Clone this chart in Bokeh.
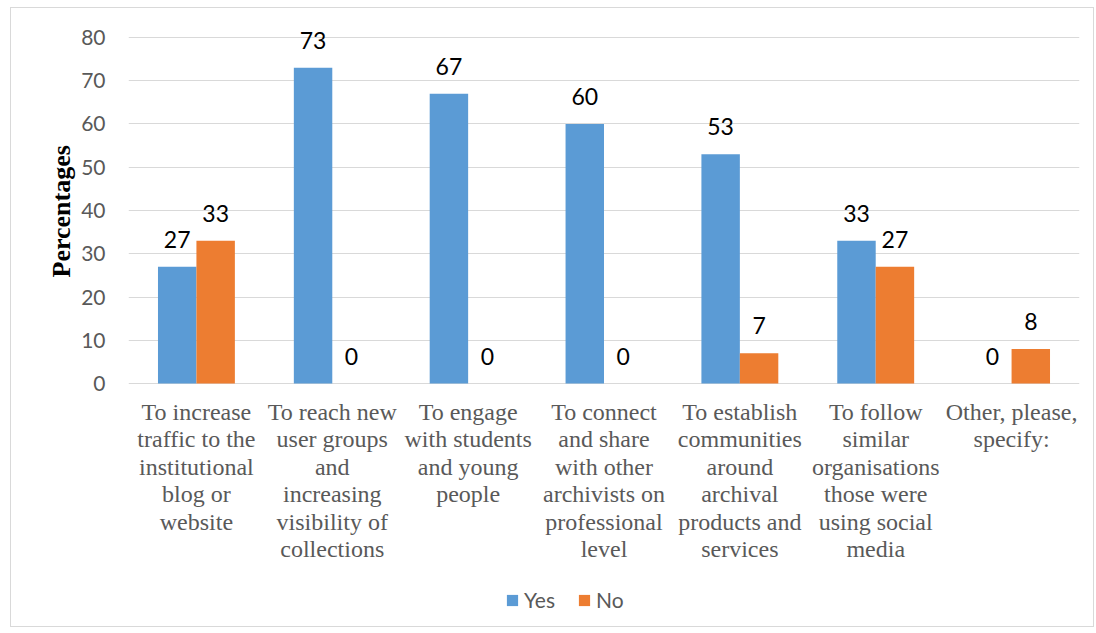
from bokeh.plotting import figure
from bokeh.models import (ColumnDataSource, FactorRange, Range1d, LabelSet, Legend,
                          LegendItem, FixedTicker, Title)
from bokeh.transform import dodge
from bokeh.core.properties import value
from bokeh.embed import file_html
from bokeh.resources import INLINE

categories = [
    "To increase\ntraffic to the\ninstitutional\nblog or\nwebsite",
    "To reach new\nuser groups\nand\nincreasing\nvisibility of\ncollections",
    "To engage\nwith students\nand young\npeople",
    "To connect\nand share\nwith other\narchivists on\nprofessional\nlevel",
    "To establish\ncommunities\naround\narchival\nproducts and\nservices",
    "To follow\nsimilar\norganisations\nthose were\nusing social\nmedia",
    "Other, please,\nspecify:",
]
yes_values = [27, 73, 67, 60, 53, 33, 0]
no_values = [33, 0, 0, 0, 7, 27, 8]
y_ticks = [0, 10, 20, 30, 40, 50, 60, 70, 80]
series_names = ["Yes", "No"]
colors = ["#5B9BD5", "#ED7D31"]
y_title = "Percentages"

src = ColumnDataSource(dict(
    cat=categories, yes=yes_values, no=no_values,
    yes_lbl=[str(v) for v in yes_values], no_lbl=[str(v) for v in no_values],
    base=[0] * len(categories),
))

# frame extends beyond 0..80 so that data labels, category texts and legend live inside it
p = figure(width=1084, height=620, output_backend="svg", toolbar_location=None,
           x_range=FactorRange(factors=categories, range_padding=0),
           y_range=Range1d(-55.7, 86),
           min_border_left=117, min_border_right=16, min_border_top=3, min_border_bottom=4)
p.styles = {"border": "1px solid #D9D9D9", "margin-left": "10px", "margin-top": "7px"}
p.outline_line_color = None
p.background_fill_color = "white"
p.border_fill_color = "white"

off = 0.1415
w = 0.283
r_yes = p.vbar(x=dodge("cat", -off, range=p.x_range), top="yes", width=w, source=src,
               fill_color=colors[0], line_color=None)
r_no = p.vbar(x=dodge("cat", off, range=p.x_range), top="no", width=w, source=src,
              fill_color=colors[1], line_color=None)

for col, lbl, o in [("yes", "yes_lbl", -off), ("no", "no_lbl", off)]:
    ls = LabelSet(x=dodge("cat", o, range=p.x_range), y=col, text=lbl, source=src,
                  text_align="center", text_baseline="bottom", y_offset=19,
                  text_font=value("Lato"), text_font_size="23px", text_color="black")
    p.add_layout(ls)

# category labels
p.text(x="cat", y="base", text="cat", source=src, text_align="center",
       text_baseline="top", y_offset=15, text_font=value("Liberation Serif"),
       text_font_size="24px", text_color="#595959", text_line_height=1.06)

p.xgrid.grid_line_color = None
p.ygrid.grid_line_color = "#D9D9D9"
p.ygrid.grid_line_width = 1
p.xaxis.visible = False

p.yaxis.ticker = FixedTicker(ticks=y_ticks)
p.yaxis.axis_line_color = None
p.yaxis.major_tick_line_color = None
p.yaxis.minor_tick_line_color = None
p.yaxis.major_label_text_font = "Lato"
p.yaxis.major_label_text_font_size = "21px"
p.yaxis.major_label_text_color = "#595959"
p.yaxis.major_label_standoff = 17

t = Title(text=y_title, align="left", offset=347, text_font="Liberation Serif",
          text_font_style="bold", text_font_size="26px", text_color="black", standoff=6)
p.add_layout(t, "left")

legend = Legend(items=[LegendItem(label=series_names[0], renderers=[r_yes]),
                       LegendItem(label=series_names[1], renderers=[r_no])],
                orientation="horizontal", location=(377, 12),
                glyph_width=14, glyph_height=14, padding=0, margin=0, spacing=22,
                label_text_font="Lato", label_text_font_size="21px",
                label_text_color="#595959", label_standoff=5,
                border_line_color=None, background_fill_alpha=0)
p.add_layout(legend, "center")

open("out.html", "w").write(file_html(p, INLINE))
